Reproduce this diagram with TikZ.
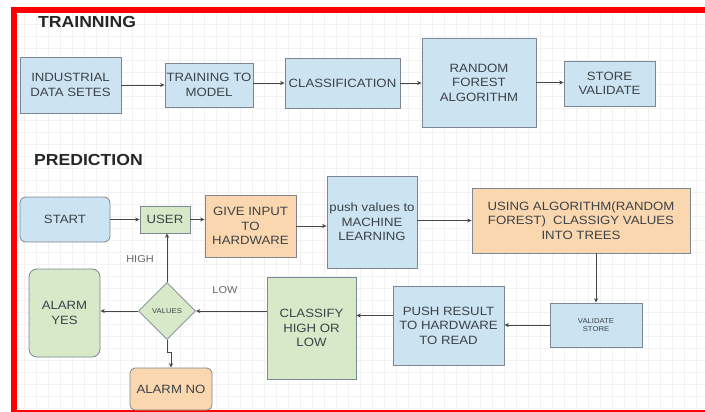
\documentclass[tikz,border=0pt]{standalone}
\usepackage{fontspec}
\setmainfont{Liberation Sans}[FakeStretch=1.1]
\usetikzlibrary{arrows.meta,shapes.geometric}

\definecolor{bluefill}{RGB}{204,227,241}
\definecolor{orangefill}{RGB}{250,215,174}
\definecolor{greenfill}{RGB}{215,233,200}
\definecolor{edgeclr}{RGB}{125,135,145}
\definecolor{txtclr}{RGB}{60,66,72}
\definecolor{lineclr}{RGB}{70,70,70}
\definecolor{frame}{RGB}{255,0,0}

\begin{document}
\begin{tikzpicture}[x=1pt,y=-1pt,
  box/.style={draw=edgeclr, line width=0.8pt, align=center, text=txtclr,
    font=\fontsize{12}{14.5}\selectfont, inner sep=1pt},
  bluebox/.style={box, fill=bluefill},
  orangebox/.style={box, fill=orangefill},
  greenbox/.style={box, fill=greenfill},
  smalltext/.style={font=\fontsize{7}{8.5}\selectfont},
  title/.style={font=\fontsize{16}{18}\selectfont\bfseries, text=black!85, anchor=west, inner sep=0pt},
  lbl/.style={font=\fontsize{10}{12}\selectfont, text=black!60, inner sep=0pt},
  arr/.style={draw=lineclr, line width=0.7pt, -{Stealth[length=4.5pt,width=4pt]}}
]
\useasboundingbox (0,0) rectangle (705,412);
\fill[white] (0,0) rectangle (705,412);
% faint drawing grid
\draw[black!5, line width=0.4pt, step=12pt] (17,13) grid (705,409);
% red frame
\fill[frame] (11,7) rectangle (705,13);
\fill[frame] (11,7) rectangle (17,412);
\fill[frame] (11,410) rectangle (705,412);

% ---------- training ----------
\node[title] (ttitle) at (38,22) {TRAINNING};
\node[bluebox, minimum width=101pt, minimum height=56pt] (ids) at (70.5,85) {INDUSTRIAL\\DATA SETES};
\node[bluebox, minimum width=88pt, minimum height=44pt] (ttm) at (209,85) {TRAINING TO\\MODEL};
\node[bluebox, minimum width=115pt, minimum height=50pt] (cls) at (342.5,83) {CLASSIFICATION};
\node[bluebox, minimum width=114pt, minimum height=89pt] (rfa) at (479,82.5) {RANDOM\\FOREST\\ALGORITHM};
\node[bluebox, minimum width=91pt, minimum height=45pt] (sv) at (609.5,83.5) {STORE\\VALIDATE};

\draw[arr] (ids.east) -- (ids.east -| ttm.west);
\draw[arr] (ttm.east |- cls.west) -- (cls.west);
\draw[arr] (cls.east) -- (cls.east -| rfa.west);
\draw[arr] (rfa.east) -- (rfa.east -| sv.west);

% ---------- prediction ----------
\node[title] (ptitle) at (34,160) {PREDICTION};
\node[bluebox, rounded corners=6pt, minimum width=90pt, minimum height=45pt] (start) at (65,219.5) {START};
\node[greenbox, minimum width=50pt, minimum height=27pt] (user) at (165,219.5) {USER};
\node[orangebox, minimum width=91pt, minimum height=62pt] (give) at (250.5,226) {GIVE INPUT\\TO\\HARDWARE};
\node[bluebox, minimum width=90pt, minimum height=92pt] (push) at (372,222) {push values to\\MACHINE\\LEARNING};
\node[orangebox, minimum width=218pt, minimum height=65pt] (using) at (581,220.5) {USING ALGORITHM(RANDOM\\FOREST)\ \ CLASSIGY VALUES\\INTO TREES};
\node[bluebox, smalltext, minimum width=92pt, minimum height=44pt] (vs) at (596,325) {VALIDATE\\STORE};
\node[bluebox, minimum width=111pt, minimum height=79pt] (pr) at (448.5,325.5) {PUSH RESULT\\TO HARDWARE\\TO READ};
\node[greenbox, minimum width=89pt, minimum height=102pt] (cl) at (311.5,328) {CLASSIFY\\HIGH OR\\LOW};
\node[greenbox, smalltext, shape=diamond, aspect=1, inner sep=0pt, minimum width=57pt, minimum height=57pt] (val) at (167,311) {VALUES};
\node[greenbox, rounded corners=8pt, minimum width=71pt, minimum height=88pt] (ay) at (64.5,313) {ALARM\\YES};
\node[orangebox, rounded corners=5pt, minimum width=82pt, minimum height=42pt] (an) at (171,389) {ALARM NO};

\draw[arr] (start.east) -- (start.east -| user.west);
\draw[arr] (user.east) -- (user.east -| give.west);
\draw[arr] (give.east) -- (give.east -| push.west);
\draw[arr] (using.west -| push.east) -- (using.west);
\draw[arr] (vs.north |- using.south) -- (vs.north);
\draw[arr] (vs.west) -- (vs.west -| pr.east);
\draw[arr] ([yshift=10pt]pr.west) -- ([yshift=10pt]pr.west -| cl.east);
\draw[arr] (val.east -| cl.west) -- (val.east);
\draw[arr] (val.west) -- (val.west -| ay.east);
\draw[arr] (val.north) -- (val.north |- user.south);
\draw[arr] (val.south) -- ++(0,12) -| (an.north);

\node[lbl] (high) at (140,259) {HIGH};
\node[lbl] (low) at (225,290) {LOW};
\end{tikzpicture}
\end{document}
